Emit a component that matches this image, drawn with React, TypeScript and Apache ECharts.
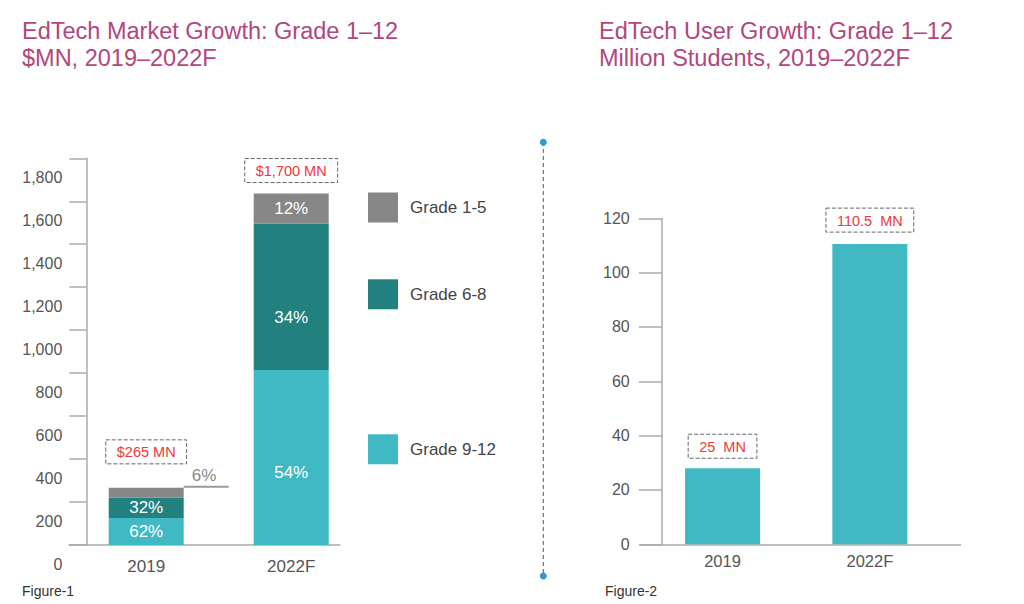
import React, { useEffect, useRef } from 'react';
import * as echarts from 'echarts';

// ---------- data ----------
const years = ['2019', '2022F'];
const grade912 = [126, 815];
const grade68 = [94, 680];
const grade15 = [46, 141];
const share912 = ['62%', '54%'];
const share68 = ['32%', '34%'];
const share15 = ['6%', '12%'];
const marketLabels = ['$265 MN', '$1,700 MN'];
const marketMax = 1800;
const marketStep = 200;

const students = [28, 110.5];
const studentLabels = ['25  MN', '110.5  MN'];
const usersMax = 120;
const usersStep = 20;

const titles = [
  'EdTech Market Growth: Grade 1\u201312\n$MN, 2019\u20132022F',
  'EdTech User Growth: Grade 1\u201312\nMillion Students, 2019\u20132022F',
];
const figureLabels = ['Figure-1', 'Figure-2'];
const legendNames = ['Grade 1-5', 'Grade 6-8', 'Grade 9-12'];

// ---------- styles ----------
const FONT = '"Liberation Sans", Arial, Helvetica, sans-serif';
const C_LIGHT = '#40b9c5';
const C_DARK = '#22807f';
const C_GREY = '#878787';
const AXIS = '#ababab';
const TXT = '#555555';
const RED = '#f0393a';
const TITLE = '#b2467e';

const totalLabelDistance = [24, 11];
const userLabelDistance = [10, 12];
const lightOffsets = [[0, 0], [0, 15]];
const darkOffsets = [[0, 0], [0, 21]];

const boxLabel = {
  color: RED,
  fontSize: 14.5,
  borderType: 'dashed',
  borderColor: '#666',
  borderWidth: 1,
  padding: [5, 11, 4, 11],
};

export default function App() {
  const ref = useRef<HTMLDivElement>(null);

  useEffect(() => {
    if (!ref.current) return;
    const chart = echarts.init(ref.current, null, { renderer: 'svg' });
    const totals = years.map((_, i) => grade912[i] + grade68[i] + grade15[i]);

    const yLabelFmt = (v: number) => v.toLocaleString('en-US');

    const option: any = {
      animation: false,
      textStyle: { fontFamily: FONT },
      title: titles.map((t, i) => ({
        text: t,
        left: i === 0 ? 22 : 599,
        top: 17,
        padding: 0,
        textStyle: { fontSize: 23.5, lineHeight: 27, color: TITLE, fontWeight: 'normal', fontFamily: FONT },
      })),
      legend: legendNames.map((n, i) => ({
        data: [n],
        left: 368,
        top: [192.5, 279.3, 434.3][i],
        itemWidth: 30,
        itemHeight: 30,
        padding: 0,
        icon: 'rect',
        selectedMode: false,
        textStyle: { fontSize: 17, color: '#444', fontFamily: FONT, padding: [0, 0, 0, 7] },
      })),
      grid: [
        { left: 73.7, width: 290, top: 158.3, height: 386.7 },
        { left: 69, width: 271, top: 158.3, height: 386.7 },
        { left: 648.9, width: 294.6, top: 218.3, height: 326 },
        { left: 640.7, width: 320, top: 218.3, height: 326 },
      ],
      xAxis: [
        {
          gridIndex: 0, type: 'category', data: years,
          axisLine: { show: false }, axisTick: { show: false },
          axisLabel: { fontSize: 17, color: TXT, margin: 13 },
        },
        {
          gridIndex: 1, type: 'value', min: 0, max: 1,
          axisLine: { show: true, onZero: false, lineStyle: { color: AXIS, width: 1.5 } },
          axisTick: { show: false }, axisLabel: { show: false }, splitLine: { show: false },
        },
        {
          gridIndex: 2, type: 'category', data: years,
          axisLine: { show: false }, axisTick: { show: false },
          axisLabel: { fontSize: 16.5, color: TXT, margin: 8 },
        },
        {
          gridIndex: 3, type: 'value', min: 0, max: 1,
          axisLine: { show: true, onZero: false, lineStyle: { color: AXIS, width: 1.5 } },
          axisTick: { show: false }, axisLabel: { show: false }, splitLine: { show: false },
        },
      ],
      yAxis: [
        {
          gridIndex: 0, type: 'value', min: 0, max: marketMax, interval: marketStep, offset: -12.6,
          axisLine: { show: true, onZero: false, lineStyle: { color: AXIS, width: 1.5 } },
          axisTick: { show: true, length: 17, lineStyle: { color: AXIS, width: 1.5 } },
          splitLine: { show: false },
          axisLabel: {
            fontSize: 16, color: TXT, margin: 24, verticalAlign: 'top', padding: [11, 0, 0, 0],
            formatter: yLabelFmt,
          },
        },
        { gridIndex: 1, type: 'value', min: 0, max: 1, show: false },
        {
          gridIndex: 2, type: 'value', min: 0, max: usersMax, interval: usersStep, offset: -12.85,
          axisLine: { show: true, onZero: false, lineStyle: { color: AXIS, width: 1.5 } },
          axisTick: { show: true, length: 23, lineStyle: { color: AXIS, width: 1.5 } },
          splitLine: { show: false },
          axisLabel: { fontSize: 16, color: TXT, margin: 32, formatter: yLabelFmt },
        },
        { gridIndex: 3, type: 'value', min: 0, max: 1, show: false },
      ],
      series: [
        {
          name: 'Grade 9-12', type: 'bar', stack: 'market', xAxisIndex: 0, yAxisIndex: 0,
          barWidth: 75, barGap: '-100%', itemStyle: { color: C_LIGHT },
          data: grade912.map((v, i) => ({ value: v, label: { offset: lightOffsets[i] } })),
          label: {
            show: true, position: 'inside', color: '#fff', fontSize: 17,
            formatter: (p: any) => share912[p.dataIndex],
          },
        },
        {
          name: 'Grade 6-8', type: 'bar', stack: 'market', xAxisIndex: 0, yAxisIndex: 0,
          barWidth: 75, barGap: '-100%', itemStyle: { color: C_DARK },
          data: grade68.map((v, i) => ({ value: v, label: { offset: darkOffsets[i] } })),
          label: {
            show: true, position: 'inside', color: '#fff', fontSize: 17,
            formatter: (p: any) => share68[p.dataIndex],
          },
        },
        {
          name: 'Grade 1-5', type: 'bar', stack: 'market', xAxisIndex: 0, yAxisIndex: 0,
          barWidth: 75, barGap: '-100%', itemStyle: { color: C_GREY },
          data: grade15.map((v, i) =>
            i === 0
              ? {
                  value: v,
                  label: {
                    show: true,
                    position: ['100%', 0],
                    align: 'left',
                    verticalAlign: 'bottom',
                    formatter: '{t|' + share15[i] + '}\n{l|}',
                    rich: {
                      t: { fontSize: 17, color: '#8a8a8a', padding: [0, 0, 2, 8], lineHeight: 19, fontFamily: FONT },
                      l: { width: 45, height: 2, lineHeight: 2, backgroundColor: '#9a9a9a' },
                    },
                  },
                }
              : { value: v }
          ),
          label: {
            show: true, position: 'inside', color: '#fff', fontSize: 17,
            formatter: (p: any) => share15[p.dataIndex],
          },
        },
        {
          name: 'total', type: 'bar', xAxisIndex: 0, yAxisIndex: 0,
          barWidth: 75, barGap: '-100%', silent: true,
          itemStyle: { color: 'rgba(0,0,0,0)' },
          data: totals.map((v, i) => ({ value: v, label: { distance: totalLabelDistance[i] } })),
          label: {
            show: true, position: 'top', ...boxLabel,
            formatter: (p: any) => marketLabels[p.dataIndex],
          },
          z: 5,
        },
        {
          name: 'Students', type: 'bar', xAxisIndex: 2, yAxisIndex: 2,
          barWidth: 75, itemStyle: { color: C_LIGHT },
          data: students.map((v, i) => ({ value: v, label: { distance: userLabelDistance[i] } })),
          label: {
            show: true, position: 'top', ...boxLabel,
            formatter: (p: any) => studentLabels[p.dataIndex],
          },
        },
      ],
      graphic: [
        {
          type: 'line', shape: { x1: 543.3, y1: 142, x2: 543.3, y2: 576 },
          style: { stroke: '#555', lineWidth: 1, lineDash: [4, 3] },
        },
        { type: 'circle', shape: { cx: 543.3, cy: 142.3, r: 3.5 }, style: { fill: '#2a9bd3' } },
        { type: 'circle', shape: { cx: 543.3, cy: 576, r: 3.5 }, style: { fill: '#2a9bd3' } },
        {
          type: 'text', left: 22, top: 584,
          style: { text: figureLabels[0], fontSize: 14, fill: '#333', fontFamily: FONT },
        },
        {
          type: 'text', left: 605, top: 584,
          style: { text: figureLabels[1], fontSize: 14, fill: '#333', fontFamily: FONT },
        },
      ],
    };

    chart.setOption(option);
    return () => chart.dispose();
  }, []);

  return (
    <div
      ref={ref}
      style={{ position: 'fixed', left: 0, top: 0, width: 1024, height: 604, background: '#fff' }}
    />
  );
}
